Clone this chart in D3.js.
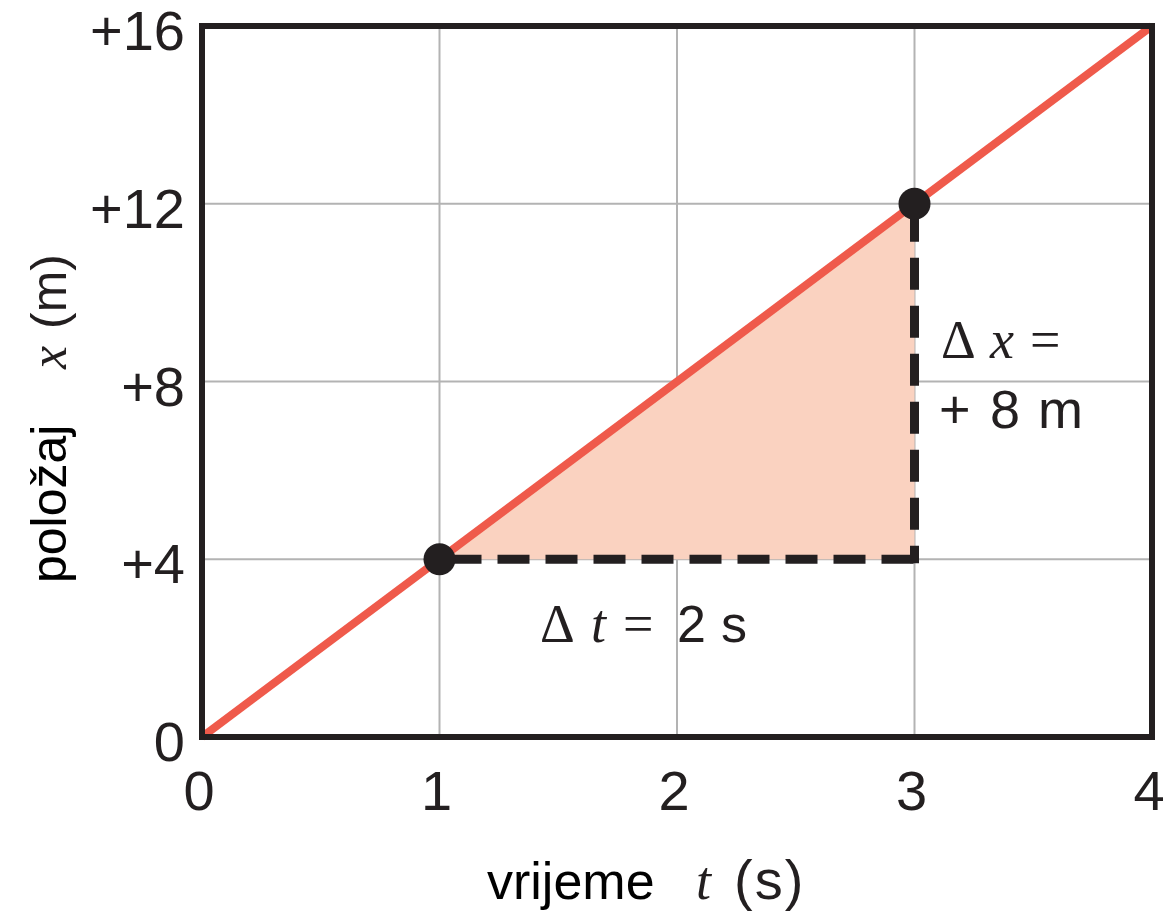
<!DOCTYPE html>
<html>
<head>
<meta charset="utf-8">
<script src="https://cdn.jsdelivr.net/npm/d3@7"></script>
<style>
  html, body { margin: 0; padding: 0; background: #fff; }
  svg { display: block; }
</style>
</head>
<body>
<svg id="chart" width="1165" height="913"></svg>
<script>
// Position-time graph for uniform motion
const timeTicks = [0, 1, 2, 3, 4];
const posTicks = [0, 4, 8, 12, 16];
const posTickLabels = ["0", "+4", "+8", "+12", "+16"];
const lineT = [0, 4];
const lineX = [0, 16];
const markT = [1, 3];
const markX = [4, 12];

const svg = d3.select("#chart");
const sans = "'Liberation Sans', Arial, sans-serif";
const serif = "'Liberation Serif', 'Times New Roman', serif";
const ink = "#231f20";

const x = d3.scaleLinear().domain([0, 4]).range([202, 1152]);
const y = d3.scaleLinear().domain([0, 16]).range([737, 26]);

// grid
svg.append("g").selectAll("line").data(timeTicks.slice(1, -1)).join("line")
  .attr("x1", d => x(d)).attr("x2", d => x(d))
  .attr("y1", y(0)).attr("y2", y(16))
  .attr("stroke", "#b3b3b3").attr("stroke-width", 2);
svg.append("g").selectAll("line").data(posTicks.slice(1, -1)).join("line")
  .attr("y1", d => y(d)).attr("y2", d => y(d))
  .attr("x1", x(0)).attr("x2", x(4))
  .attr("stroke", "#b3b3b3").attr("stroke-width", 2);

// shaded triangle between the two marked points
const tri = [[markT[0], markX[0]], [markT[1], markX[1]], [markT[1], markX[0]]];
svg.append("path")
  .attr("d", d3.line().x(d => x(d[0])).y(d => y(d[1]))(tri) + "Z")
  .attr("fill", "#fad2c0");

// dashed legs: Δt and Δx
svg.append("line")
  .attr("x1", x(markT[0])).attr("x2", x(markT[1]))
  .attr("y1", y(markX[0])).attr("y2", y(markX[0]))
  .attr("stroke", ink).attr("stroke-width", 9)
  .attr("stroke-dasharray", "32,16").attr("stroke-dashoffset", -10);
svg.append("line")
  .attr("x1", x(markT[1])).attr("x2", x(markT[1]))
  .attr("y1", y(markX[1])).attr("y2", y(markX[0]) + 4)
  .attr("stroke", ink).attr("stroke-width", 9)
  .attr("stroke-dasharray", "32,16").attr("stroke-dashoffset", -6);

// position line
svg.append("path")
  .datum(lineT.map((t, i) => [t, lineX[i]]))
  .attr("d", d3.line().x(d => x(d[0])).y(d => y(d[1])))
  .attr("fill", "none").attr("stroke", "#ef5a4b").attr("stroke-width", 8);

// frame
svg.append("rect")
  .attr("x", x(0)).attr("y", y(16))
  .attr("width", x(4) - x(0)).attr("height", y(0) - y(16))
  .attr("fill", "none").attr("stroke", ink).attr("stroke-width", 6);

// marked points
svg.append("g").selectAll("circle").data(markT.map((t, i) => [t, markX[i]])).join("circle")
  .attr("cx", d => x(d[0])).attr("cy", d => y(d[1])).attr("r", 16)
  .attr("fill", ink);

// tick labels
svg.append("g").selectAll("text").data(timeTicks).join("text")
  .attr("x", d => x(d) - 3).attr("y", 810)
  .attr("text-anchor", "middle")
  .attr("font-family", sans).attr("font-size", 56).attr("fill", ink)
  .text(d => d);
svg.append("g").selectAll("text").data(posTicks).join("text")
  .attr("x", 185).attr("y", d => y(d) + 24)
  .attr("text-anchor", "end")
  .attr("font-family", sans).attr("font-size", 56).attr("fill", ink)
  .text((d, i) => posTickLabels[i]);

// small helper for placed text pieces
const put = (g, px, py, txt, fam, size, style) =>
  g.append("text").attr("x", px).attr("y", py)
    .attr("font-family", fam).attr("font-size", size)
    .attr("font-style", style || "normal").text(txt);

// x axis title
const xt = svg.append("g").attr("fill", ink);
put(xt, 487, 899, "vrijeme", sans, 52).attr("fill", "#000");
put(xt, 696, 899, "t", serif, 54, "italic");
put(xt, 734, 899, "(s)", sans, 56).attr("letter-spacing", 2);

// y axis title
const yTitle = (txt, ty, fam, style, size, fill) =>
  svg.append("text")
    .attr("transform", `translate(66,${ty}) rotate(-90)`)
    .attr("font-family", fam).attr("font-style", style).attr("font-size", size)
    .attr("fill", fill).text(txt);
yTitle("položaj", 583, sans, "normal", 50, "#000");
yTitle("x", 369, serif, "italic", 52, ink);
yTitle("(m)", 329, sans, "normal", 50, ink);

// annotations
const ann = svg.append("g").attr("fill", ink);
put(ann, 540, 642, "Δ", serif, 54);
put(ann, 591, 642, "t", serif, 54, "italic");
put(ann, 623, 642, "=", serif, 54);
put(ann, 677, 642, "2", sans, 52);
put(ann, 721, 642, "s", sans, 52);

put(ann, 941, 358, "Δ", serif, 54);
put(ann, 990, 358, "x", serif, 54, "italic");
put(ann, 1030, 358, "=", serif, 54);

put(ann, 939, 428, "+", sans, 54);
put(ann, 990, 428, "8", sans, 54);
put(ann, 1038, 428, "m", sans, 54);
</script>
</body>
</html>
